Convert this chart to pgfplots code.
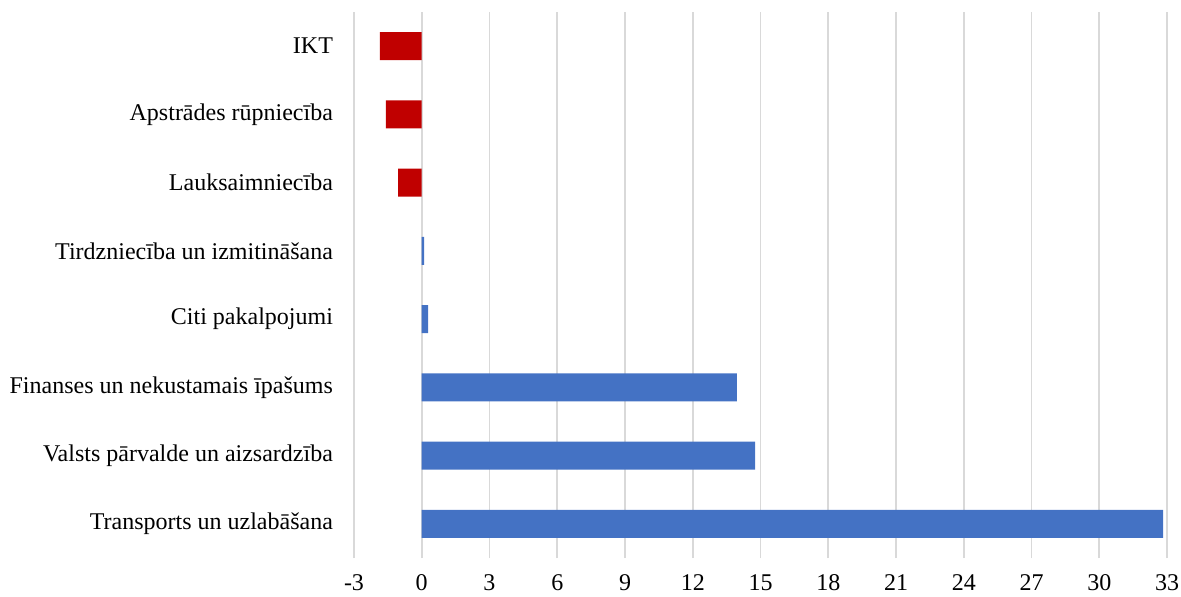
\documentclass[border=0pt]{standalone}
\usepackage{fontspec}
\setmainfont{Liberation Serif}
\usepackage{pgfplots}
\pgfplotsset{compat=1.18}
\definecolor{negred}{HTML}{C00000}
\definecolor{posblue}{HTML}{4472C4}
\definecolor{gridgray}{HTML}{D9D9D9}
\begin{document}
\begin{tikzpicture}
\begin{axis}[
  scale only axis,
  width=406.5pt, height=273pt,
  xbar,
  bar width=14pt,
  xmin=-3, xmax=33,
  xtick={-3,0,3,...,33},
  ymin=-0.5, ymax=7.5,
  ytick={0,1,2,3,4,5,6,7},
  yticklabels={Transports un uzlabāšana,Valsts pārvalde un aizsardzība,Finanses un nekustamais īpašums,Citi pakalpojumi,Tirdzniecība un izmitināšana,Lauksaimniecība,Apstrādes rūpniecība,IKT},
  xmajorgrids,
  major grid style={gridgray, line width=0.8pt},
  major tick length=0pt,
  axis line style={draw=none},
  /pgf/number format/assume math mode=true,
  tick label style={font=\fontsize{12}{14}\selectfont},
  yticklabel style={xshift=-7pt},
  xticklabel style={yshift=-4.5pt, text height=8pt, text depth=0pt},
  clip=false,
]
\addplot[fill=posblue, draw=none, bar shift=0pt] coordinates {
  (32.83,0) (14.76,1) (13.95,2) (0.28,3) (0.10,4)
};
\addplot[fill=negred, draw=none, bar shift=0pt] coordinates {
  (-1.05,5) (-1.59,6) (-1.85,7)
};
\end{axis}
\pgfresetboundingbox
\path[use as bounding box] (-177pt,-19pt) rectangle (413.5pt,279pt);
\end{tikzpicture}
\end{document}
